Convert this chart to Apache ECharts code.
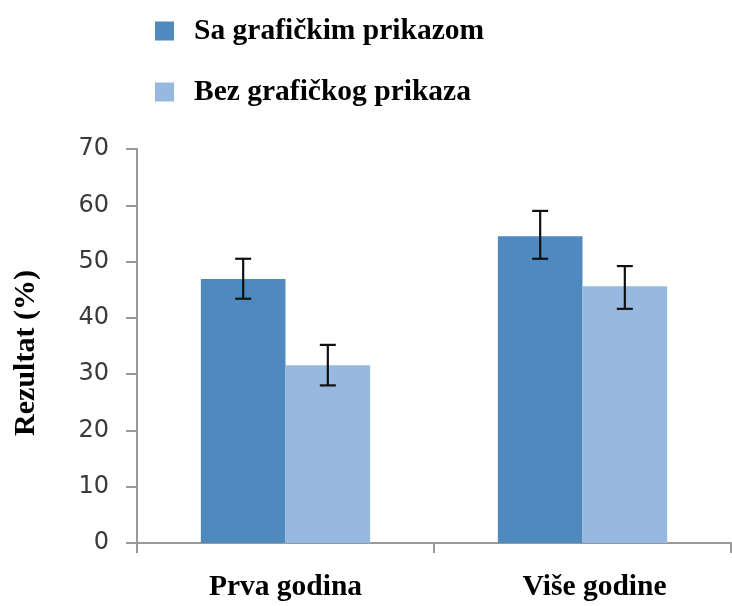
<!DOCTYPE html>
<html>
<head>
<meta charset="utf-8">
<script src="https://cdn.jsdelivr.net/npm/echarts@6/dist/echarts.min.js"></script>
<style>
  html, body { margin: 0; padding: 0; background: #fff; }
  #chart { width: 732px; height: 606px; }
</style>
</head>
<body>
<div id="chart"></div>
<script>
var categories = ['Prva godina', 'Više godine'];
var seriesNames = ['Sa grafičkim prikazom', 'Bez grafičkog prikaza'];
var withChart = [46.9, 54.5];
var withoutChart = [31.6, 45.6];
// error bar ends [low, high]
var withChartErr = [[43.4, 50.5], [50.5, 59.0]];
var withoutChartErr = [[28.0, 35.2], [41.6, 49.2]];
var yTicks = [0, 70, 10];

var colors = ['#4f89bd', '#97b9e0'];
var barCategoryGap = 0.43;
var serif = '"Liberation Serif", "Times New Roman", serif';

// draws one error bar for series number s
function errorBar(s) {
	return function (params, api) {
		var x = api.value(0);
		var lo = api.coord([x, api.value(1)]);
		var hi = api.coord([x, api.value(2)]);
		var bw = api.size([1, 0])[0] * (1 - barCategoryGap) / 2;
		var cx = lo[0] + (s === 0 ? -bw / 2 : bw / 2);
		var cap = 8;
		var style = { stroke: '#111', lineWidth: 2.2 };
		return {
			type: 'group',
			children: [
				{ type: 'line', shape: { x1: cx, y1: lo[1], x2: cx, y2: hi[1] }, style: style },
				{ type: 'line', shape: { x1: cx - cap, y1: hi[1], x2: cx + cap, y2: hi[1] }, style: style },
				{ type: 'line', shape: { x1: cx - cap, y1: lo[1], x2: cx + cap, y2: lo[1] }, style: style }
			]
		};
	};
}

function errData(arr) {
	return arr.map(function (e, i) { return [i, e[0], e[1]]; });
}

var chart = echarts.init(document.getElementById('chart'));
chart.setOption({
	animation: false,
	color: colors,
	legend: {
		orient: 'vertical',
		left: 150,
		top: 10,
		itemWidth: 19,
		itemHeight: 19,
		itemGap: 29,
		icon: 'rect',
		data: seriesNames,
		textStyle: {
			fontFamily: serif,
			fontWeight: 'bold',
			fontSize: 29.5,
			color: '#000',
			lineHeight: 32,
			padding: [0, 0, 0, 15]
		}
	},
	grid: {
		left: 137,
		right: 1,
		top: 149,
		bottom: 63
	},
	xAxis: {
		type: 'category',
		data: [
			{ value: categories[0] },
			{ value: categories[1], textStyle: { padding: [0, 0, 0, 24] } }
		],
		axisLine: { lineStyle: { color: '#999', width: 2 } },
		axisTick: { show: true, length: 10, lineStyle: { color: '#999', width: 2 } },
		axisLabel: {
			margin: 29,
			fontFamily: serif,
			fontWeight: 'bold',
			fontSize: 29.5,
			color: '#000'
		}
	},
	yAxis: {
		type: 'value',
		min: yTicks[0],
		max: yTicks[1],
		interval: yTicks[2],
		name: 'Rezultat (%)',
		nameLocation: 'middle',
		nameRotate: 90,
		nameGap: 96,
		nameTextStyle: {
			fontFamily: serif,
			fontWeight: 'bold',
			fontSize: 30,
			color: '#000',
			padding: [0, 14, 0, 0]
		},
		splitLine: { show: false },
		axisLine: { show: true, lineStyle: { color: '#999', width: 2 } },
		axisTick: { show: true, length: 11, lineStyle: { color: '#999', width: 2 } },
		axisLabel: {
			margin: 28,
			fontFamily: '"DejaVu Sans", Verdana, sans-serif',
			fontSize: 24,
			color: '#3a3a3a'
		}
	},
	series: [
		{
			name: seriesNames[0],
			type: 'bar',
			data: withChart,
			barGap: '0%',
			barCategoryGap: (barCategoryGap * 100) + '%',
			itemStyle: { color: colors[0] }
		},
		{
			name: seriesNames[1],
			type: 'bar',
			data: withoutChart,
			itemStyle: { color: colors[1] }
		},
		{
			type: 'custom',
			renderItem: errorBar(0),
			data: errData(withChartErr),
			encode: { x: 0, y: [1, 2] },
			z: 10
		},
		{
			type: 'custom',
			renderItem: errorBar(1),
			data: errData(withoutChartErr),
			encode: { x: 0, y: [1, 2] },
			z: 10
		}
	]
});
</script>
</body>
</html>
